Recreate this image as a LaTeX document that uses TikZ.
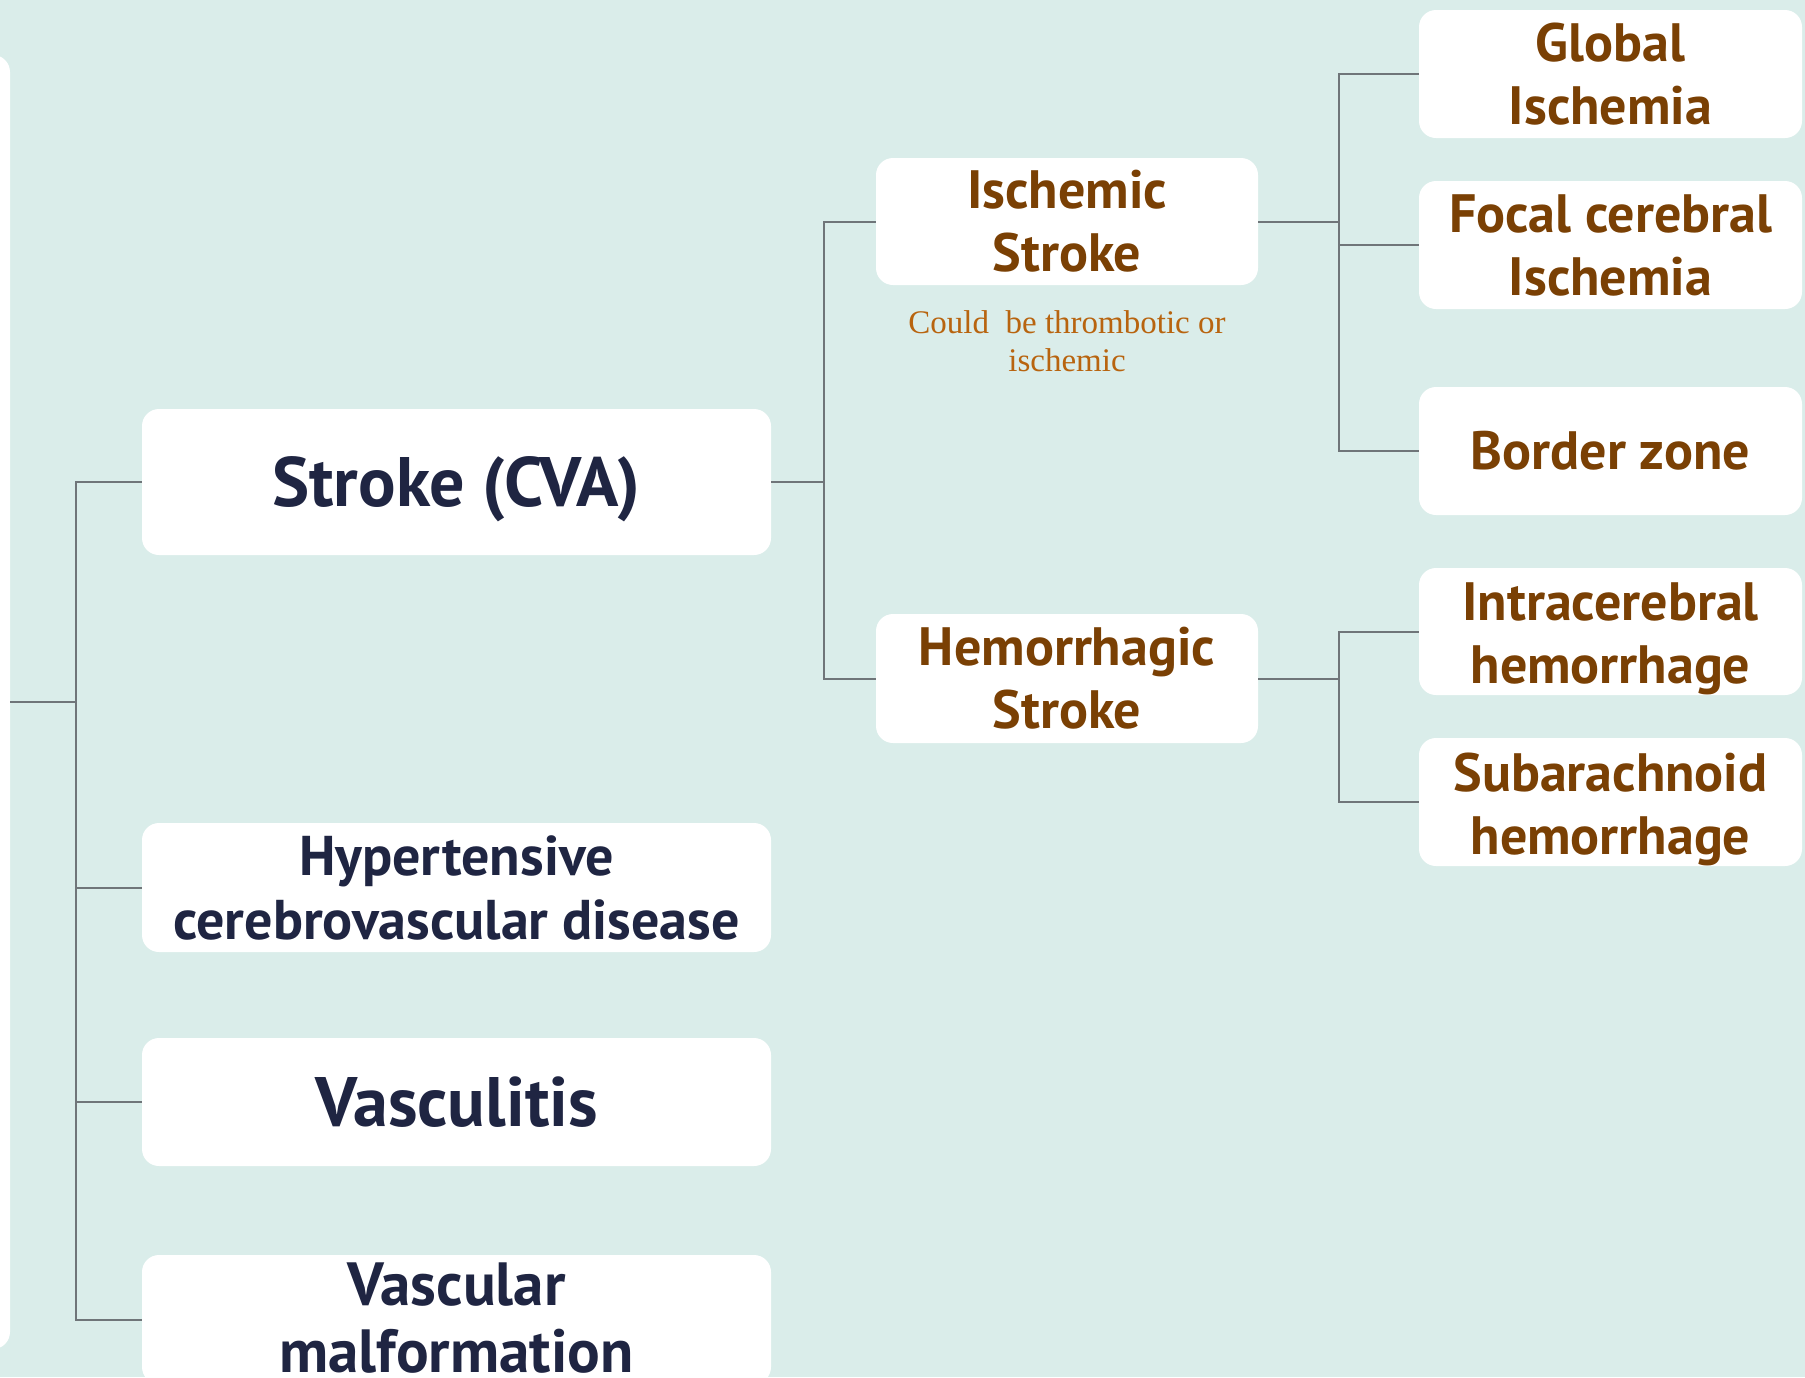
\documentclass[tikz,border=0pt]{standalone}
\usepackage{fontspec}
\setmainfont{PT Sans}
\newfontfamily\notefont{Liberation Serif}
\definecolor{bgc}{HTML}{DAEDEA}
\definecolor{navy}{HTML}{1F2542}
\definecolor{brownc}{HTML}{7A4004}
\definecolor{notec}{HTML}{B8640F}
\definecolor{linec}{HTML}{6F7579}
\tikzset{
  box/.style={fill=white, draw=none, rounded corners=17pt, align=center, inner sep=0pt},
  navytext/.style={box, text=navy, font=\bfseries\fontsize{56}{64}\selectfont},
  malftext/.style={box, fill=none, text=navy, font=\bfseries\fontsize{61}{67}\selectfont},
  bigtext/.style={box, text=navy, font=\bfseries\fontsize{70}{80}\selectfont, text height=58pt, text depth=9pt},
  browntext/.style={box, text=brownc, font=\bfseries\fontsize{54}{63}\selectfont},
  lowtext/.style={box, fill=none, text=brownc, font=\bfseries\fontsize{54}{63}\selectfont},
  conn/.style={draw=linec, line width=2pt},
  notetext/.style={text=notec, align=center, font=\notefont\fontsize{33}{38}\selectfont}
}
\begin{document}
\begin{tikzpicture}[x=1pt,y=-1pt]
\useasboundingbox (0,0) rectangle (1805,1377);
\fill[bgc] (0,0) rectangle (1805,1377);
\begin{scope}
\clip (0,0) rectangle (1805,1377);
% root (partly off the page)
\node[box, minimum width=60pt, minimum height=1294pt] (root) at (-20,702) {};
% level 1
\node[bigtext, minimum width=629pt, minimum height=146pt] (stroke) at (456.5,482) {Stroke (CVA)};
\node[navytext, minimum width=629pt, minimum height=129pt] (hyp) at (456.5,887.5) {Hypertensive\\cerebrovascular disease};
\node[bigtext, minimum width=629pt, minimum height=128pt] (vasc) at (456.5,1102) {Vasculitis};
\node[box, minimum width=629pt, minimum height=129pt] (malf) at (456.5,1319.5) {};
\node[malftext, anchor=north] (malft) at (456.5,1263) {Vascular\\malformation};
% level 2
\node[browntext, minimum width=382pt, minimum height=127pt] (isch) at (1067,221.5) {Ischemic\\Stroke};
\node[browntext, minimum width=382pt, minimum height=129pt] (hem) at (1067,678.5) {Hemorrhagic\\Stroke};
\node[notetext] (note) at (1067,341) {Could\ \ be thrombotic or\\ischemic};
% level 3
\node[browntext, minimum width=383pt, minimum height=128pt] (global) at (1610.5,74) {Global\\Ischemia};
\node[browntext, minimum width=383pt, minimum height=128pt] (focal) at (1610.5,245) {Focal cerebral\\Ischemia};
\node[browntext, minimum width=383pt, minimum height=128pt] (border) at (1610.5,451) {Border zone};
\node[box, minimum width=383pt, minimum height=127pt] (intra) at (1610.5,631.5) {};
\node[lowtext] (intrat) at (1610.5,638.5) {Intracerebral\\hemorrhage};
\node[box, minimum width=383pt, minimum height=128pt] (sub) at (1610.5,802) {};
\node[lowtext] (subt) at (1610.5,809) {Subarachnoid\\hemorrhage};
% junctions
\coordinate (j1) at (76,702);
\coordinate (j2) at (824,482);
\coordinate (j3) at (1339,221.5);
\coordinate (j4) at (1339,678.5);
% connectors
\draw[conn] (root.east) -- (j1);
\draw[conn] (j1) |- (stroke.west);
\draw[conn] (j1) |- (hyp.west);
\draw[conn] (j1) |- (vasc.west);
\draw[conn] (j1) |- (malf.west);
\draw[conn] (stroke.east) -- (j2);
\draw[conn] (j2) |- (isch.west);
\draw[conn] (j2) |- (hem.west);
\draw[conn] (isch.east) -- (j3);
\draw[conn] (j3) |- (global.west);
\draw[conn] (j3) |- (focal.west);
\draw[conn] (j3) |- (border.west);
\draw[conn] (hem.east) -- (j4);
\draw[conn] (j4) |- (intra.west);
\draw[conn] (j4) |- (sub.west);
\end{scope}
\end{tikzpicture}
\end{document}
